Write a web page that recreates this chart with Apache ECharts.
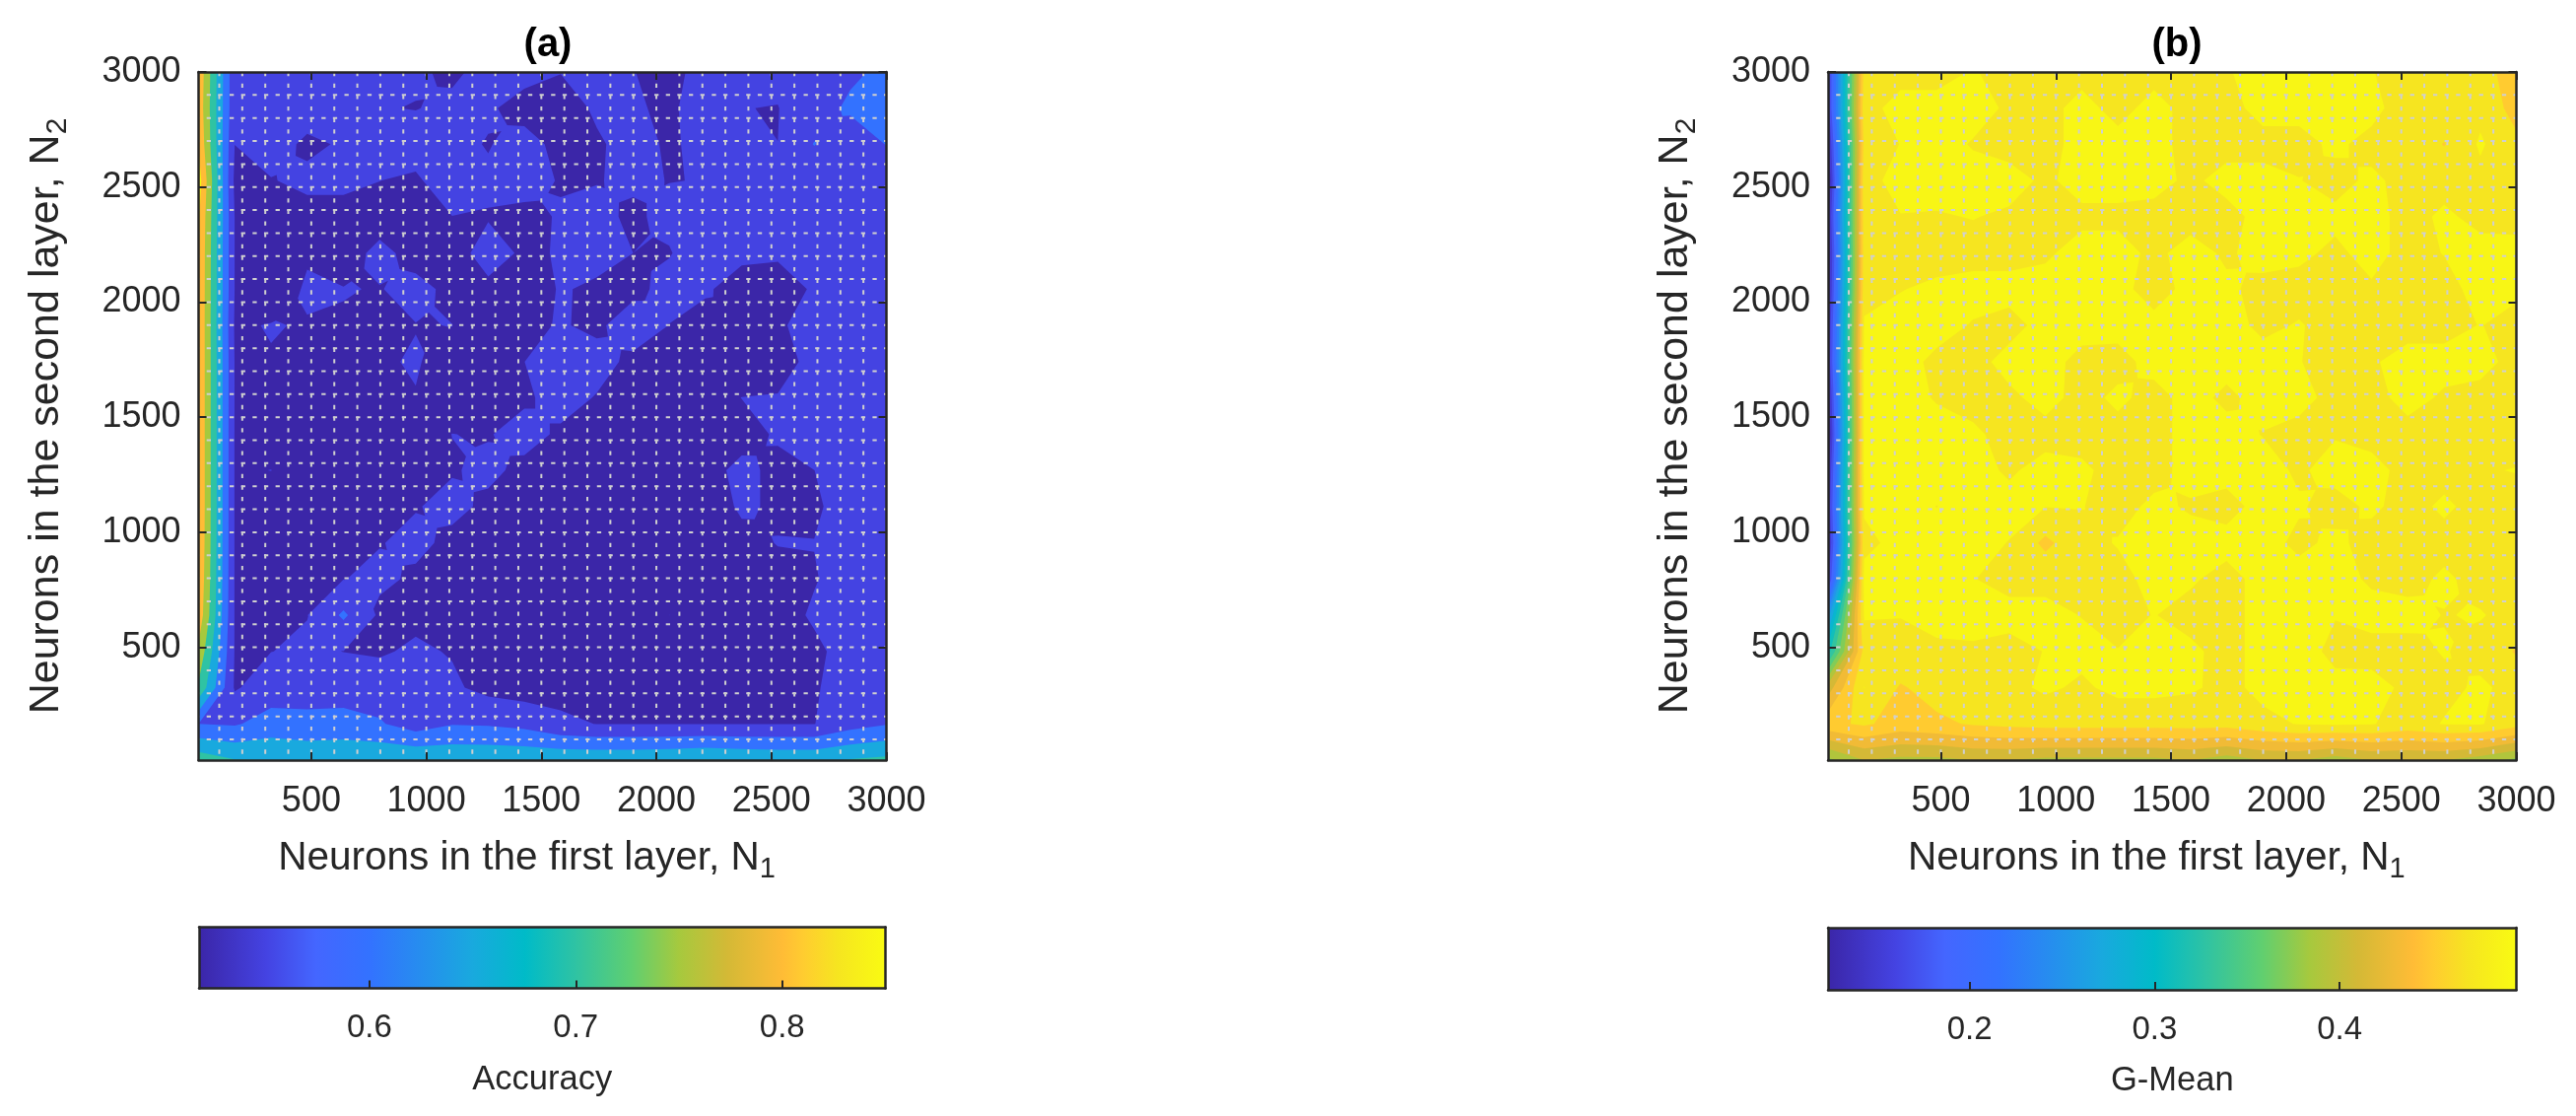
<!DOCTYPE html>
<html>
<head>
<meta charset="utf-8">
<title>Neurons</title>
<script src="https://cdn.jsdelivr.net/npm/echarts@6/dist/echarts.min.js"></script>
<style>
  html, body { margin: 0; padding: 0; background: #fff; }
  #main { width: 2614px; height: 1132px; }
</style>
</head>
<body>
<div id="main"></div>
<script>
// grid sites of the sweep, same for both layers
const neurons = [10, 167, 325, 482, 640, 797, 954, 1112, 1269, 1426, 1584, 1741, 1899, 2056, 2213, 2371, 2528, 2686, 2843, 3000]
const dottedLines = [100, 200, 300, 400, 500, 600, 700, 800, 900, 1000, 1100, 1200, 1300, 1400, 1500, 1600, 1700, 1800, 1900, 2000, 2100, 2200, 2300, 2400, 2500, 2600, 2700, 2800, 2900]
const axisTicks = [500, 1000, 1500, 2000, 2500, 3000]

// rows go from N2 = 3000 at the top down to N2 = 10
const accuracyRows = [
  [.84,.56,.56,.56,.56,.558,.554,.545,.559,.556,.551,.56,.5508,.54,.5622,.56,.559,.575,.59,.612],
  [.835,.56,.56,.5549,.556,.5514,.549,.5563,.5525,.543,.535,.5547,.552,.547,.5585,.5506,.549,.575,.61,.615],
  [.846,.5502,.5547,.548,.5511,.556,.565,.5547,.549,.557,.5445,.546,.5614,.5457,.5589,.556,.5501,.602,.5624,.602],
  [.875,.54,.5495,.5523,.5515,.5502,.545,.57,.553,.5532,.5494,.5495,.552,.5497,.5504,.556,.557,.56,.56,.57],
  [.858,.5495,.53,.5465,.54775,.54,.54,.5495,.549,.5478,.5507,.5535,.54765,.5539,.556,.556,.556,.56,.56,.565],
  [.853,.5495,.53,.545,.54,.556,.5424,.5441,.5557,.5479,.5509,.556,.55,.549,.56,.556,.5505,.56,.562,.56],
  [.852,.5495,.522,.556,.5508,.5492,.556,.5451,.5469,.54,.5515,.547,.545,.556,.5534,.5384,.5484,.5504,.562,.56],
  [.852,.545,.552,.5475,.5484,.54,.5495,.5502,.54,.5452,.5515,.5463,.5605,.5497,.54,.5501,.547,.5585,.565,.56],
  [.852,.5485,.5479,.54,.54,.548,.5515,.5423,.54,.5499,.56,.5567,.5457,.535,.53,.535,.54,.5574,.56,.56],
  [.852,.5485,.54,.54,.54,.54,.54925,.54,.54,.547,.557,.5489,.535,.53,.54,.5503,.5514,.56,.56,.56],
  [.852,.548,.54,.54,.54,.54,.54,.5502,.5488,.557,.547,.54,.54,.54,.54,.54,.5532,.56,.56,.56],
  [.852,.548,.5502,.54,.54,.54,.54,.5484,.5545,.545,.54,.54,.54,.54,.5405,.557,.5433,.5499,.56,.56],
  [.852,.548,.54,.54,.54,.54,.5487,.556,.5456,.54,.54,.54,.54,.54,.5312,.555,.5452,.546,.5614,.56],
  [.85,.548,.54,.54,.54,.5489,.556,.5442,.54,.54,.54,.54,.54,.54,.54,.5403,.5512,.5505,.57,.56],
  [.845,.548,.54,.54,.5493,.556,.5456,.54,.54,.54,.54,.54,.54,.54,.54,.54,.5392,.5485,.56,.56],
  [.835,.548,.54,.549,.608,.5428,.54,.54,.54,.54,.54,.54,.54,.5501,.54,.54,.54,.5532,.56,.56],
  [.79,.548,.5495,.556,.5495,.545,.557,.547,.54,.54,.54,.54,.54,.54,.54,.54,.54,.545,.5593,.56],
  [.742,.545,.575,.585,.58,.575,.57,.558,.5352,.528,.5333,.53,.53,.53,.53,.53,.53,.548,.5594,.565],
  [.6,.595,.62,.61,.616,.605,.575,.598,.595,.585,.56,.549,.549,.549,.549,.549,.549,.549,.58,.597],
  [.729,.702,.699,.695,.695,.695,.695,.69,.69,.69,.69,.69,.69,.695,.702,.695,.69,.69,.703,.712]
]
const gmeanRows = [
  [.16,.478,.485,.485,.491,.485,.485,.485,.485,.485,.485,.489,.495,.495,.492,.4905,.485,.485,.482,.455],
  [.16,.485,.495,.495,.495,.488,.485,.495,.485,.495,.485,.485,.495,.495,.495,.495,.481,.485,.485,.462],
  [.14,.478,.4905,.495,.489,.485,.485,.495,.495,.495,.485,.485,.485,.485,.493,.485,.485,.469,.4925,.475],
  [.125,.485,.495,.495,.495,.495,.4876,.495,.495,.495,.487,.495,.495,.4905,.485,.493,.485,.485,.485,.48],
  [.14,.482,.4895,.489,.4905,.488,.485,.487,.487,.485,.485,.485,.495,.495,.4935,.495,.485,.4925,.486,.485],
  [.13,.482,.485,.485,.485,.485,.488,.495,.495,.487,.495,.488,.495,.493,.487,.495,.485,.4905,.495,.495],
  [.135,.484,.4895,.4925,.495,.495,.495,.495,.495,.4832,.495,.4925,.486,.485,.485,.488,.485,.485,.495,.493],
  [.145,.492,.495,.495,.489,.485,.495,.495,.495,.495,.495,.495,.487,.491,.485,.485,.485,.485,.4905,.485],
  [.15,.495,.495,.487,.485,.495,.495,.486,.485,.495,.495,.495,.495,.4905,.485,.4885,.495,.495,.495,.485],
  [.135,.495,.495,.489,.485,.487,.495,.485,.493,.485,.495,.487,.495,.495,.485,.485,.495,.488,.485,.485],
  [.125,.495,.495,.495,.4925,.485,.485,.485,.485,.485,.495,.495,.4895,.485,.489,.485,.485,.485,.485,.485],
  [.14,.495,.495,.495,.495,.488,.495,.4925,.485,.485,.495,.495,.495,.488,.495,.495,.485,.485,.489,.4905],
  [.15,.492,.495,.4898,.495,.495,.4905,.4905,.485,.493,.4885,.485,.495,.4915,.485,.4925,.485,.4925,.485,.485],
  [.14,.486,.495,.495,.495,.4895,.465,.485,.491,.495,.495,.495,.495,.487,.493,.485,.485,.485,.485,.485],
  [.16,.495,.495,.495,.4905,.485,.485,.485,.485,.495,.492,.485,.495,.495,.495,.488,.485,.4925,.485,.485],
  [.26,.492,.4905,.495,.495,.495,.495,.4895,.485,.4905,.485,.485,.495,.495,.4905,.495,.495,.4895,.491,.485],
  [.32,.478,.485,.487,.488,.485,.4905,.495,.4905,.495,.493,.485,.495,.495,.487,.485,.485,.491,.485,.468],
  [.42,.4905,.468,.478,.482,.485,.493,.487,.495,.495,.4925,.485,.495,.495,.4935,.495,.487,.486,.4925,.485],
  [.465,.473,.462,.466,.472,.475,.478,.478,.478,.478,.478,.478,.485,.491,.4925,.491,.483,.491,.4915,.478],
  [.385,.41,.405,.405,.41,.41,.405,.405,.405,.405,.41,.40,.41,.41,.40,.41,.41,.41,.40,.385]
]

// contour levels of the two maps, and the ends of their colorbars
const accuracyLevels = [.55, .6, .65, .7, .75, .8, .85]
const gmeanLevels = [.13, .15, .17, .19, .21, .23, .25, .27, .29, .31, .33, .35, .37, .39, .41, .43, .45, .47, .49]
const accuracyRange = [.5175, .85]
const gmeanRange = [.1235, .4955]
const accuracyTicks = [.6, .7, .8]
const gmeanTicks = [.2, .3, .4]

const colorStops = [
  [0, '#3b26a8'], [.098, '#4443e2'], [.17, '#4466ff'], [.248, '#3372ff'], [.398, '#19a9de'],
  [.475, '#00bbc8'], [.549, '#2fc3a3'], [.63, '#60cf70'], [.699, '#a6c93e'], [.77, '#d4b936'],
  [.85, '#ffbc36'], [.88, '#ffcc30'], [.93, '#f6e520'], [1, '#f9fb12']
]

const INK = '#262626'
const FONT = '"Liberation Sans", Arial, sans-serif'

function hexToRgb(hex) {
  return [1, 3, 5].map(i => parseInt(hex.substr(i, 2), 16))
}

function colormap(t) {
  t = Math.max(0, Math.min(1, t))
  for (let i = 1; i < colorStops.length; i++) {
    if (t <= colorStops[i][0]) {
      const a = colorStops[i - 1], b = colorStops[i]
      const f = (t - a[0]) / (b[0] - a[0])
      const ca = hexToRgb(a[1]), cb = hexToRgb(b[1])
      const c = ca.map((v, k) => Math.round(v + (cb[k] - v) * f))
      return 'rgb(' + c.join(',') + ')'
    }
  }
  return colorStops[colorStops.length - 1][1]
}

// keeps the part of a polygon where the value is at least level
function clipCell(cell, level) {
  const out = []
  for (let i = 0; i < cell.length; i++) {
    const p = cell[i], q = cell[(i + 1) % cell.length]
    if (p[2] >= level) out.push(p)
    if ((p[2] >= level) !== (q[2] >= level)) {
      const f = (level - p[2]) / (q[2] - p[2])
      out.push([p[0] + (q[0] - p[0]) * f, p[1] + (q[1] - p[1]) * f, level])
    }
  }
  return out
}

function isSaddle(cell, level) {
  const h = cell.map(p => p[2] >= level)
  return h[0] === h[2] && h[1] === h[3] && h[0] !== h[1]
}

// saddle cells are cut through their mean so opposite corners only join when the mean allows it
function cellPolygons(cell, level) {
  if (!isSaddle(cell, level)) return [clipCell(cell, level)]
  const mid = [
    (cell[0][0] + cell[2][0]) / 2,
    (cell[0][1] + cell[2][1]) / 2,
    (cell[0][2] + cell[1][2] + cell[2][2] + cell[3][2]) / 4
  ]
  return cell.map((p, i) => clipCell([p, cell[(i + 1) % 4], mid], level))
}

function contourPath(rows, level, api) {
  const parts = []
  const n = neurons.length
  for (let r = 0; r < n - 1; r++) {
    for (let c = 0; c < n - 1; c++) {
      const yTop = neurons[n - 1 - r], yBot = neurons[n - 2 - r]
      const cell = [
        [neurons[c], yTop, rows[r][c]],
        [neurons[c + 1], yTop, rows[r][c + 1]],
        [neurons[c + 1], yBot, rows[r + 1][c + 1]],
        [neurons[c], yBot, rows[r + 1][c]]
      ]
      cellPolygons(cell, level).forEach(poly => {
        if (poly.length < 3) return
        const pts = poly.map(p => api.coord([p[0], p[1]]))
        parts.push('M' + pts.map(p => p[0].toFixed(2) + ' ' + p[1].toFixed(2)).join('L') + 'Z')
      })
    }
  }
  return parts.join('')
}

function contourSeries(rows, levels, range, gridIdx) {
  const span = range[1] - range[0]
  return {
    type: 'custom',
    coordinateSystem: 'cartesian2d',
    xAxisIndex: gridIdx,
    yAxisIndex: gridIdx,
    z: 2,
    silent: true,
    clip: true,
    animation: false,
    renderItem: function (params, api) {
      const level = api.value(0)
      return {
        type: 'path',
        shape: { pathData: contourPath(rows, level, api) },
        style: { fill: colormap((Math.max(level, range[0]) - range[0]) / span) }
      }
    },
    data: [range[0] - 1].concat(levels)
  }
}

// the dotted lattice on top of each map
function latticeSeries(gridIdx) {
  return {
    type: 'custom',
    coordinateSystem: 'cartesian2d',
    xAxisIndex: gridIdx,
    yAxisIndex: gridIdx,
    z: 3,
    silent: true,
    animation: false,
    renderItem: function (params, api) {
      const v = api.value(0)
      const h0 = api.coord([10, v]), h1 = api.coord([3000, v])
      const v0 = api.coord([v, 3000]), v1 = api.coord([v, 10])
      return {
        type: 'group',
        children: [{
          type: 'line',
          shape: { x1: h0[0], y1: h0[1], x2: h1[0], y2: h1[1] },
          style: { stroke: '#cfcfcf', lineWidth: 2, lineDash: [4.3, 7.35], lineDashOffset: 3.45 }
        }, {
          type: 'line',
          shape: { x1: v0[0], y1: v0[1], x2: v1[0], y2: v1[1] },
          style: { stroke: '#cfcfcf', lineWidth: 2, lineDash: [4.3, 7.35] }
        }]
      }
    },
    data: dottedLines
  }
}

function barSeries(range, xIdx, yIdx) {
  return {
    type: 'custom',
    coordinateSystem: 'cartesian2d',
    xAxisIndex: xIdx,
    yAxisIndex: yIdx,
    z: 2,
    silent: true,
    animation: false,
    renderItem: function (params, api) {
      const a = api.coord([range[0], 1]), b = api.coord([range[1], 0])
      return {
        type: 'rect',
        shape: { x: a[0], y: a[1], width: b[0] - a[0], height: b[1] - a[1] },
        style: {
          fill: new echarts.graphic.LinearGradient(0, 0, 1, 0,
            colorStops.map(s => ({ offset: s[0], color: s[1] })))
        }
      }
    },
    data: [0]
  }
}

const axisLine = { show: true, onZero: false, lineStyle: { color: INK, width: 2.5 } }
const tickIn = { show: true, inside: true, length: 8, lineStyle: { color: INK, width: 2 }, customValues: axisTicks }

function mapX(gridIdx, showLabel) {
  return {
    type: 'value', gridIndex: gridIdx, min: 10, max: 3000, z: 6,
    position: showLabel ? 'bottom' : 'top',
    splitLine: { show: false },
    axisLine: axisLine,
    axisTick: tickIn,
    axisLabel: showLabel
      ? { show: true, customValues: axisTicks, color: INK, fontFamily: FONT, fontSize: 36, margin: 24, formatter: v => String(v) }
      : { show: false },
    name: showLabel ? 'Neurons in the first layer, N{s|1}' : '',
    nameLocation: 'middle',
    nameGap: 74,
    nameTextStyle: {
      color: INK, fontFamily: FONT, fontSize: 40.5, padding: [0, 32, 0, 0],
      rich: { s: { fontSize: 29, fontFamily: FONT, color: INK, padding: [22, 0, 0, 0] } }
    }
  }
}

function mapY(gridIdx, showLabel) {
  return {
    type: 'value', gridIndex: gridIdx, min: 10, max: 3000, z: 6,
    position: showLabel ? 'left' : 'right',
    splitLine: { show: false },
    axisLine: axisLine,
    axisTick: tickIn,
    axisLabel: showLabel
      ? { show: true, customValues: axisTicks, color: INK, fontFamily: FONT, fontSize: 36, margin: 18, formatter: v => String(v) }
      : { show: false },
    name: showLabel ? 'Neurons in the second layer, N{s|2}' : '',
    nameLocation: 'middle',
    nameGap: 128,
    nameTextStyle: {
      color: INK, fontFamily: FONT, fontSize: 43,
      rich: { s: { fontSize: 30, fontFamily: FONT, color: INK, padding: [23, 0, 0, 0] } }
    }
  }
}

function barX(gridIdx, range, ticks, title) {
  return {
    type: 'value', gridIndex: gridIdx, min: range[0], max: range[1], z: 6, position: 'bottom',
    splitLine: { show: false },
    axisLine: axisLine,
    axisTick: { show: true, inside: true, length: 8, lineStyle: { color: INK, width: 2 }, customValues: ticks },
    axisLabel: {
      show: true, customValues: ticks, color: INK, fontFamily: FONT, fontSize: 33, margin: 24,
      formatter: v => v.toFixed(1)
    },
    name: title,
    nameLocation: 'middle',
    nameGap: 75,
    nameTextStyle: { color: INK, fontFamily: FONT, fontSize: 34.5 }
  }
}

function barEdge(gridIdx, position) {
  return {
    type: 'value', gridIndex: gridIdx, z: 6, position: position,
    splitLine: { show: false }, axisTick: { show: false }, axisLabel: { show: false },
    axisLine: axisLine
  }
}

var chartDom = document.getElementById('main')
var myChart = echarts.init(chartDom, null, { renderer: 'canvas' })

let option = {
  backgroundColor: '#fff',
  animation: false,
  title: [
    { text: '(a)', left: 551, top: 21, textAlign: 'center', textStyle: { color: '#000', fontFamily: FONT, fontWeight: 'bold', fontSize: 40 } },
    { text: '(b)', left: 2204, top: 21, textAlign: 'center', textStyle: { color: '#000', fontFamily: FONT, fontWeight: 'bold', fontSize: 40 } }
  ],
  grid: [
    { left: 201.5, top: 73, width: 698, height: 698 },
    { left: 1855, top: 73, width: 698.5, height: 698 },
    { left: 202, top: 940.5, width: 696.5, height: 62 },
    { left: 1855, top: 941, width: 698.5, height: 63 }
  ],
  xAxis: [
    mapX(0, true), mapX(1, true),
    barX(2, accuracyRange, accuracyTicks, 'Accuracy'), barX(3, gmeanRange, gmeanTicks, 'G-Mean'),
    mapX(0, false), mapX(1, false),
    Object.assign(barEdge(2, 'top'), { min: accuracyRange[0], max: accuracyRange[1] }),
    Object.assign(barEdge(3, 'top'), { min: gmeanRange[0], max: gmeanRange[1] })
  ],
  yAxis: [
    mapY(0, true), mapY(1, true),
    Object.assign(barEdge(2, 'left'), { min: 0, max: 1 }), Object.assign(barEdge(3, 'left'), { min: 0, max: 1 }),
    mapY(0, false), mapY(1, false),
    Object.assign(barEdge(2, 'right'), { min: 0, max: 1 }), Object.assign(barEdge(3, 'right'), { min: 0, max: 1 })
  ],
  series: [
    contourSeries(accuracyRows, accuracyLevels, accuracyRange, 0),
    contourSeries(gmeanRows, gmeanLevels, gmeanRange, 1),
    latticeSeries(0),
    latticeSeries(1),
    barSeries(accuracyRange, 2, 2),
    barSeries(gmeanRange, 3, 3)
  ]
}
option && myChart.setOption(option)
</script>
</body>
</html>
